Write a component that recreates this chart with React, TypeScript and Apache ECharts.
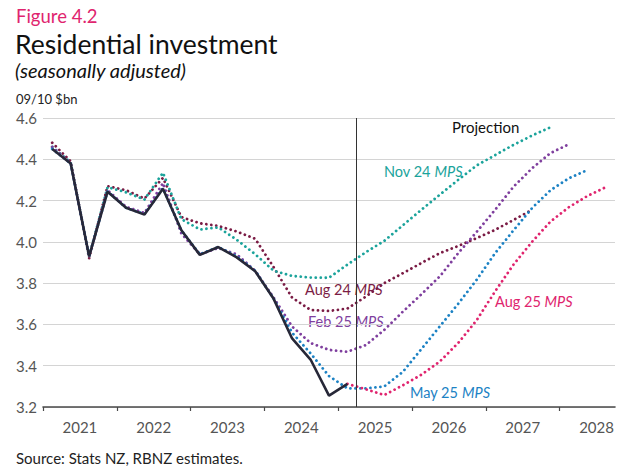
import React, { useEffect, useRef } from "react";
import * as echarts from "echarts";

// Quarterly periods, 2021 Q1 .. 2028 Q3
const quarters: string[] = [];
for (let y = 2021; y <= 2028; y++) {
  for (let q = 1; q <= 4; q++) {
    if (y === 2028 && q === 4) break;
    quarters.push(`${y}Q${q}`);
  }
}

// Residential investment, 09/10 $bn (seasonally adjusted)
const actual = [
  4.45, 4.38, 3.93, 4.243, 4.165, 4.132, 4.257, 4.056, 3.937, 3.975, 3.925, 3.858, 3.724,
  3.532, 3.43, 3.255, 3.312,
];
const aug24 = [
  4.48, 4.39, 3.92, 4.27, 4.25, 4.21, 4.31, 4.12, 4.09, 4.077, 4.05, 4.015, 3.877, 3.73,
  3.67, 3.665, 3.677, 3.735, 3.8, 3.848, 3.897, 3.945, 3.98, 4.018, 4.058, 4.106, 4.155,
];
const nov24 = [
  4.46, 4.385, 3.93, 4.265, 4.24, 4.205, 4.335, 4.11, 4.06, 4.07, 4.01, 3.94, 3.86, 3.835,
  3.827, 3.826, 3.89, 3.95, 4.005, 4.08, 4.155, 4.228, 4.3, 4.37, 4.42, 4.47, 4.515, 4.555,
];
const feb25 = [
  4.46, 4.38, 3.93, 4.25, 4.17, 4.14, 4.285, 4.04, 3.94, 3.97, 3.94, 3.86, 3.73, 3.59,
  3.51, 3.477, 3.468, 3.5, 3.574, 3.662, 3.745, 3.832, 3.945, 4.048, 4.155, 4.267, 4.356,
  4.43, 4.473,
];
const may25 = [
  4.45, 4.38, 3.93, 4.245, 4.165, 4.135, 4.26, 4.055, 3.94, 3.975, 3.93, 3.86, 3.725, 3.56,
  3.46, 3.35, 3.29, 3.29, 3.3, 3.37, 3.48, 3.59, 3.7, 3.816, 3.945, 4.056, 4.163, 4.25,
  4.308, 4.348,
];
// Aug 25 MPS shown from 2025 Q1 onwards (earlier quarters sit under the actuals)
const aug25Start = 16;
const aug25 = [
  3.312, 3.286, 3.258, 3.305, 3.356, 3.42, 3.51, 3.62, 3.76, 3.89, 4.0, 4.098, 4.168, 4.222,
  4.265,
];

const yearTicks = [2021, 2022, 2023, 2024, 2025, 2026, 2027, 2028];
const projectionStart = 2025.25;

// quarter index -> position on the time axis (centre of the quarter)
const qx = (i: number) => 2021 + (i + 0.5) / 4;
const toPairs = (vals: number[], start = 0) => vals.map((v, i) => [qx(i + start), v]);

const FAMILY = "Lato, 'Noto Sans', sans-serif";
const LABEL_SIZE = 14.5;

const dotted = (color: string) => ({
  color,
  width: 2.8,
  type: [0.01, 5] as number[],
  cap: "round" as const,
});

// width of a plain text run, used to place the italic "MPS" after the vintage name
const measure = (text: string, font: string) => {
  const ctx = document.createElement("canvas").getContext("2d");
  if (!ctx) return text.length * LABEL_SIZE * 0.5;
  ctx.font = font;
  return ctx.measureText(text).width;
};

const mpsLabel = (name: string, color: string, x: number, y: number) => {
  const head = `${name} `;
  const w = measure(head, `${LABEL_SIZE}px ${FAMILY}`);
  return {
    type: "group",
    x,
    y,
    children: [
      {
        type: "text",
        x: 0,
        y: 0,
        style: { text: head, fontFamily: FAMILY, fontSize: LABEL_SIZE, fill: color, verticalAlign: "middle" },
      },
      {
        type: "text",
        x: w,
        y: 0,
        style: {
          text: "MPS",
          fontFamily: FAMILY,
          fontSize: LABEL_SIZE,
          fontStyle: "italic",
          fill: color,
          verticalAlign: "middle",
        },
      },
    ],
  };
};

export default function App() {
  const ref = useRef<HTMLDivElement>(null);

  useEffect(() => {
    if (!ref.current) return;
    const chart = echarts.init(ref.current, undefined, { renderer: "svg" });
    chart.setOption({
      animation: false,
      backgroundColor: "#ffffff",
      grid: { left: 43, right: 7, top: 118, bottom: 69 },
      xAxis: {
        type: "value",
        min: 2021,
        max: 2028.75,
        interval: 1,
        axisLine: { show: true, lineStyle: { color: "#4a4a4a", width: 1.6 } },
        axisTick: {
          show: true,
          length: 4,
          customValues: yearTicks,
          lineStyle: { color: "#4a4a4a", width: 1.2 },
        },
        axisLabel: {
          show: true,
          customValues: yearTicks.map((y) => y + 0.5),
          formatter: (v: number) => String(Math.floor(v)),
          color: "#555",
          fontFamily: FAMILY,
          fontSize: 15,
          margin: 12,
        },
        splitLine: { show: false },
      },
      yAxis: {
        type: "value",
        min: 3.2,
        max: 4.6,
        interval: 0.2,
        axisLine: { show: false },
        axisTick: { show: false },
        axisLabel: {
          formatter: (v: number) => v.toFixed(1),
          color: "#555",
          fontFamily: FAMILY,
          fontSize: 15,
          margin: 6,
        },
        splitLine: { lineStyle: { color: "#d4d4d4", width: 1 } },
      },
      series: [
        { name: "Aug 24 MPS", type: "line", data: toPairs(aug24), showSymbol: false, lineStyle: dotted("#7b1c45"), z: 2 },
        { name: "Nov 24 MPS", type: "line", data: toPairs(nov24), showSymbol: false, lineStyle: dotted("#1ba39b"), z: 2 },
        { name: "Feb 25 MPS", type: "line", data: toPairs(feb25), showSymbol: false, lineStyle: dotted("#7f3f9e"), z: 2 },
        { name: "May 25 MPS", type: "line", data: toPairs(may25), showSymbol: false, lineStyle: dotted("#1c82c4"), z: 2 },
        { name: "Aug 25 MPS", type: "line", data: toPairs(aug25, aug25Start), showSymbol: false, lineStyle: dotted("#e0246e"), z: 2 },
        {
          name: "Actual",
          type: "line",
          data: toPairs(actual),
          showSymbol: false,
          lineStyle: { color: "#272838", width: 2.6 },
          z: 3,
          markLine: {
            silent: true,
            symbol: "none",
            label: { show: false },
            lineStyle: { color: "#333", width: 1, type: "solid" },
            data: [{ xAxis: projectionStart }],
          },
        },
      ],
      graphic: [
        { type: "text", left: 16, top: 6, style: { text: "Figure 4.2", fontFamily: FAMILY, fontSize: 18.5, fill: "#e0246e" } },
        { type: "text", left: 15, top: 30, style: { text: "Residential investment", fontFamily: FAMILY, fontSize: 26.5, fill: "#111" } },
        { type: "text", left: 15, top: 60, style: { text: "(seasonally adjusted)", fontFamily: FAMILY, fontSize: 20, fontStyle: "italic", fill: "#111" } },
        { type: "text", left: 16, top: 92, style: { text: "09/10 $bn", fontFamily: FAMILY, fontSize: 13, fill: "#222" } },
        { type: "text", x: 452, y: 127, style: { text: "Projection", fontFamily: FAMILY, fontSize: 15, fill: "#111", verticalAlign: "middle" } },
        mpsLabel("Nov 24", "#1ba39b", 384, 171),
        mpsLabel("Aug 24", "#7b1c45", 305, 289),
        mpsLabel("Feb 25", "#7f3f9e", 308, 321),
        mpsLabel("May 25", "#1c82c4", 410, 392),
        mpsLabel("Aug 25", "#e0246e", 495, 301),
        { type: "text", left: 16, top: 450, style: { text: "Source: Stats NZ, RBNZ estimates.", fontFamily: FAMILY, fontSize: 15, fill: "#222" } },
      ],
    });
    return () => chart.dispose();
  }, []);

  return (
    <div
      ref={ref}
      style={{ position: "fixed", left: 0, top: 0, width: 622, height: 476, background: "#fff" }}
    />
  );
}
